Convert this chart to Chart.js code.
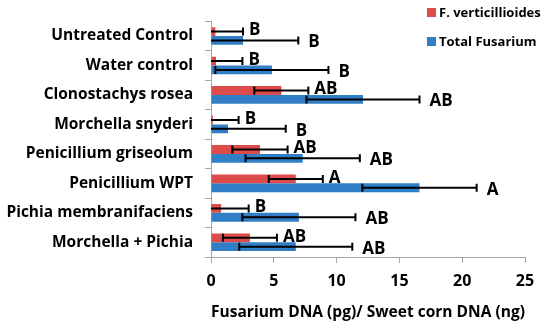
<!DOCTYPE html>
<html>
<head>
<meta charset="utf-8">
<script src="https://cdn.jsdelivr.net/npm/chart.js@4"></script>
<style>
  html, body { margin: 0; padding: 0; background: #fff; }
  #wrap { width: 550px; height: 327px; }
</style>
</head>
<body>
<div id="wrap"><canvas id="chart" width="550" height="327"></canvas></div>
<script>
// Treatments, top to bottom
const categories = ['Untreated Control', 'Water control', 'Clonostachys rosea', 'Morchella snyderi',
    'Penicillium griseolum', 'Penicillium WPT', 'Pichia membranifaciens', 'Morchella + Pichia'];

// F. verticillioides
const fvMean = [0.35, 0.4, 5.6, 0.15, 3.9, 6.75, 0.8, 3.1];
const fvErr = [2.2, 2.1, 2.15, 2.05, 2.2, 2.15, 2.2, 2.15];
const fvLetters = ['B', 'B', 'AB', 'B', 'AB', 'A', 'B', 'AB'];

// Total Fusarium
const totalMean = [2.55, 4.85, 12.1, 1.35, 7.3, 16.6, 7.0, 6.75];
const totalErr = [4.4, 4.5, 4.5, 4.6, 4.55, 4.55, 4.5, 4.5];
const totalLetters = ['B', 'B', 'AB', 'B', 'AB', 'A', 'AB', 'AB'];

const xTicks = [0, 5, 10, 15, 20, 25];

const FONT = '"Open Sans", sans-serif';
const RED = '#DE4B4B';
const BLUE = '#2F7EC6';

const errors = [fvErr, totalErr];
const letters = [fvLetters, totalLetters];

// error bars + significance letters
const errorBarPlugin = {
    id: 'errorBars',
    afterDatasetsDraw(chart) {
        const ctx = chart.ctx;
        const xs = chart.scales.x;
        const area = chart.chartArea;
        chart.data.datasets.forEach((ds, d) => {
            const meta = chart.getDatasetMeta(d);
            meta.data.forEach((bar, i) => {
                const v = ds.data[i];
                const e = errors[d][i];
                const lo = xs.getPixelForValue(v - e);
                const hi = xs.getPixelForValue(v + e);
                const y = bar.y;
                const cap = 4;
                ctx.save();
                ctx.strokeStyle = '#000';
                ctx.lineWidth = 2;
                ctx.beginPath();
                ctx.moveTo(Math.max(lo, area.left), y);
                ctx.lineTo(hi, y);
                ctx.moveTo(hi, y - cap);
                ctx.lineTo(hi, y + cap);
                if (lo >= area.left) {
                    ctx.moveTo(lo, y - cap);
                    ctx.lineTo(lo, y + cap);
                }
                ctx.stroke();
                ctx.restore();

                ctx.save();
                ctx.fillStyle = '#000';
                ctx.font = 'bold 17px ' + FONT;
                ctx.textBaseline = 'middle';
                ctx.textAlign = 'left';
                const gap = d === 0 ? 6 : 10;
                const dy = d === 0 ? -1 : 2;
                ctx.fillText(letters[d][i], hi + gap, y + dy);
                ctx.restore();
            });
        });
    }
};

// legend in the top right corner
const legendPlugin = {
    id: 'cornerLegend',
    afterDraw(chart) {
        const ctx = chart.ctx;
        ctx.save();
        ctx.font = 'bold 13px ' + FONT;
        ctx.textBaseline = 'middle';
        ctx.fillStyle = RED;
        ctx.fillRect(427, 8, 9, 9);
        ctx.fillStyle = BLUE;
        ctx.fillRect(427, 37, 9, 9);
        ctx.fillStyle = '#000';
        ctx.fillText('F. verticillioides', 439, 13);
        ctx.fillText('Total Fusarium', 439, 42);
        ctx.restore();
    }
};

new Chart(document.getElementById('chart'), {
    type: 'bar',
    data: {
        labels: categories,
        datasets: [
            { label: 'F. verticillioides', data: fvMean, backgroundColor: RED },
            { label: 'Total Fusarium', data: totalMean, backgroundColor: BLUE }
        ]
    },
    options: {
        indexAxis: 'y',
        responsive: false,
        animation: false,
        categoryPercentage: 0.6,
        barPercentage: 1.0,
        layout: { padding: { top: 10, right: 25, left: 0, bottom: 0 } },
        plugins: {
            legend: { display: false },
            tooltip: { enabled: false }
        },
        scales: {
            x: {
                min: 0,
                max: 25,
                afterBuildTicks: (scale) => { scale.ticks = xTicks.map(v => ({ value: v })); },
                afterFit: (scale) => { scale.height = 70; },
                grid: { drawOnChartArea: false, drawTicks: true, tickLength: 6, color: '#A6A6A6' },
                border: { color: '#A6A6A6', width: 1 },
                ticks: { color: '#000', font: { family: FONT, size: 16, weight: 'bold' }, padding: 9 },
                title: {
                    display: true,
                    text: 'Fusarium DNA (pg)/ Sweet corn DNA (ng)',
                    color: '#000',
                    font: { family: FONT, size: 15.7, weight: 'bold' },
                    padding: { top: 0, bottom: 5 }
                }
            },
            y: {
                afterFit: (scale) => { scale.width = 211; },
                grid: { drawOnChartArea: false, drawTicks: true, tickLength: 6, color: '#A6A6A6', offset: true },
                border: { color: '#A6A6A6', width: 1 },
                ticks: { color: '#000', font: { family: FONT, size: 15.5, weight: 'bold' }, padding: 12, autoSkip: false }
            }
        }
    },
    plugins: [errorBarPlugin, legendPlugin]
});
</script>
</body>
</html>
